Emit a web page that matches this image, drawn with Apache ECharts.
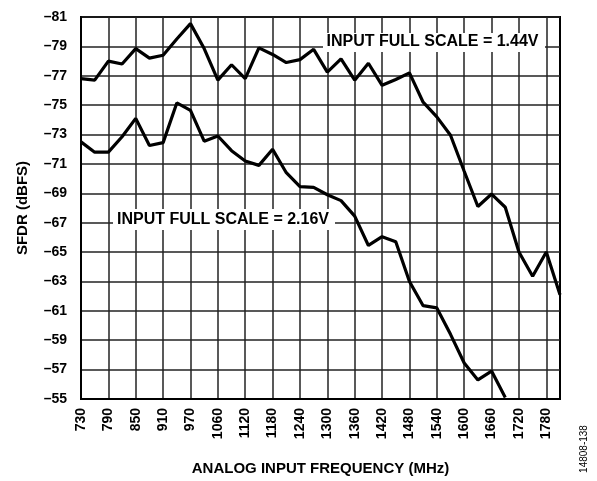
<!DOCTYPE html>
<html>
<head>
<meta charset="utf-8">
<script src="https://cdn.jsdelivr.net/npm/echarts@6/dist/echarts.min.js"></script>
<style>
html,body{margin:0;padding:0;background:#fff;}
#chart{width:597px;height:481px;}
</style>
</head>
<body>
<div id="chart"></div>
<script>
// Category frequencies (MHz); only every other one carries a tick label
var categories = ['730','760','790','820','850','880','910','940','970','1015','1060','1090','1120','1150','1180','1210','1240','1270','1300','1330','1360','1390','1420','1450','1480','1510','1540','1570','1600','1630','1660','1690','1720','1750','1780','1810'];
// SFDR (dBFS) at INPUT FULL SCALE = 1.44V
var sfdr144 = [-76.8,-76.7,-78.0,-77.8,-78.85,-78.2,-78.4,-79.5,-80.55,-78.85,-76.7,-77.75,-76.8,-78.9,-78.45,-77.9,-78.1,-78.8,-77.25,-78.15,-76.7,-77.85,-76.35,-76.75,-77.2,-75.2,-74.2,-72.95,-70.5,-68.1,-68.95,-68.05,-65.0,-63.35,-65.0,-62.1];
// SFDR (dBFS) at INPUT FULL SCALE = 2.16V
var sfdr216 = [-72.5,-71.8,-71.8,-72.85,-74.1,-72.25,-72.45,-75.15,-74.65,-72.55,-72.9,-71.9,-71.2,-70.9,-72.0,-70.4,-69.45,-69.4,-68.9,-68.5,-67.45,-65.45,-66.05,-65.7,-63.0,-61.35,-61.2,-59.4,-57.45,-56.3,-56.9,-55.1,null,null,null,null];
var yMin = -81, yMax = -55, yStep = 2;

var FONT = '"Liberation Sans", Arial, Helvetica, sans-serif';
var chart = echarts.init(document.getElementById('chart'), null, {renderer:'canvas'});
chart.setOption({
  animation: false,
  backgroundColor: '#fff',
  grid: {left: 81, top: 17, right: 37, bottom: 78, show: true, borderColor: '#000', borderWidth: 2, backgroundColor: 'transparent'},
  xAxis: {
    type: 'category',
    data: categories,
    boundaryGap: false,
    name: 'ANALOG INPUT FREQUENCY (MHz)',
    nameLocation: 'middle',
    nameGap: 62,
    nameTextStyle: {color: '#000', fontFamily: FONT, fontWeight: 'bold', fontSize: 15},
    axisLine: {show: true, lineStyle: {color: '#000', width: 2}},
    axisTick: {show: false},
    axisLabel: {interval: 1, rotate: 90, margin: 9, color: '#000', fontFamily: FONT, fontWeight: 'bold', fontSize: 14},
    splitLine: {show: true, interval: 1, lineStyle: {color: '#222', width: 1.5}}
  },
  yAxis: {
    type: 'value',
    inverse: true,
    min: yMin, max: yMax, interval: yStep,
    name: 'SFDR (dBFS)',
    nameLocation: 'middle',
    nameGap: 51,
    nameTextStyle: {color: '#000', fontFamily: FONT, fontWeight: 'bold', fontSize: 15},
    axisLine: {show: true, lineStyle: {color: '#000', width: 2}},
    axisTick: {show: false},
    axisLabel: {margin: 14, color: '#000', fontFamily: FONT, fontWeight: 'bold', fontSize: 14,
      formatter: function (v) { return (v < 0 ? '\u2013' : '') + Math.abs(v); }},
    splitLine: {show: true, lineStyle: {color: '#222', width: 1.5}}
  },
  series: [
    {name: '1.44V', type: 'line', data: sfdr144, symbol: 'none', lineStyle: {color: '#000', width: 3.2}, z: 3},
    {name: '2.16V', type: 'line', data: sfdr216, symbol: 'none', lineStyle: {color: '#000', width: 3.2}, z: 3}
  ],
  graphic: [
    {type: 'rect', shape: {x: 323, y: 33, width: 222, height: 19}, style: {fill: '#fff'}, z: 10},
    {type: 'text', x: 432.5, y: 42, z: 11, style: {text: 'INPUT FULL SCALE = 1.44V', fill: '#000', font: 'bold 16px ' + FONT, textAlign: 'center', textVerticalAlign: 'middle'}},
    {type: 'rect', shape: {x: 113, y: 209, width: 222, height: 21}, style: {fill: '#fff'}, z: 10},
    {type: 'text', x: 223, y: 220, z: 11, style: {text: 'INPUT FULL SCALE = 2.16V', fill: '#000', font: 'bold 16px ' + FONT, textAlign: 'center', textVerticalAlign: 'middle'}},
    {type: 'text', x: 584, y: 449, rotation: Math.PI / 2, z: 11, style: {text: '14808-138', fill: '#000', font: '10px ' + FONT, textAlign: 'center', textVerticalAlign: 'middle'}}
  ]
});
</script>
</body>
</html>
